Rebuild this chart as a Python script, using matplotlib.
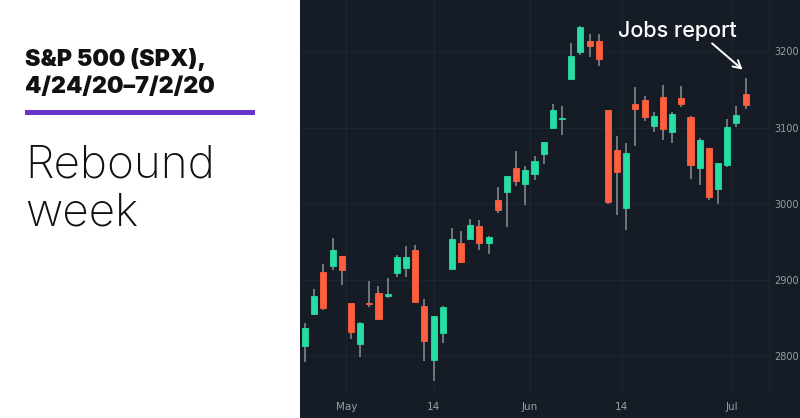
import matplotlib

matplotlib.use("Agg")
import matplotlib.pyplot as plt
from matplotlib.patches import Rectangle

# S&P 500 daily candles, 4/24/20 - 7/2/20
dates = [
    "4/24", "4/27", "4/28", "4/29", "4/30",
    "5/1", "5/4", "5/5", "5/6", "5/7", "5/8", "5/11", "5/12", "5/13", "5/14", "5/15",
    "5/18", "5/19", "5/20", "5/21", "5/22", "5/26", "5/27", "5/28", "5/29",
    "6/1", "6/2", "6/3", "6/4", "6/5", "6/8", "6/9", "6/10", "6/11", "6/12",
    "6/15", "6/16", "6/17", "6/18", "6/19", "6/22", "6/23", "6/24", "6/25", "6/26",
    "6/29", "6/30", "7/1", "7/2",
]
opens = [
    2812.6, 2854.7, 2910.0, 2918.5, 2930.9,
    2869.1, 2815.0, 2868.9, 2883.1, 2878.3, 2908.8, 2915.5, 2939.5, 2865.9, 2794.5, 2830.0,
    2913.9, 2948.6, 2953.6, 2970.0, 2948.1, 3004.1, 3015.7, 3046.6, 3025.2,
    3038.8, 3064.8, 3098.9, 3111.6, 3163.8, 3199.9, 3213.3, 3213.4, 3123.5, 3071.0,
    2993.8, 3131.0, 3136.1, 3101.6, 3140.3, 3094.4, 3138.7, 3114.4, 3046.6, 3073.2,
    3018.6, 3050.2, 3105.9, 3143.6,
]
highs = [
    2842.7, 2887.7, 2921.2, 2954.9, 2930.9,
    2869.1, 2844.2, 2898.2, 2891.1, 2901.9, 2932.2, 2944.3, 2945.8, 2874.1, 2852.8, 2865.0,
    2968.1, 2964.2, 2980.3, 2978.5, 2956.8, 3021.7, 3036.3, 3068.7, 3049.2,
    3062.2, 3081.1, 3130.9, 3128.9, 3211.7, 3233.1, 3222.7, 3223.3, 3123.5, 3088.4,
    3079.8, 3153.5, 3141.2, 3120.0, 3155.5, 3120.9, 3154.9, 3115.0, 3086.3, 3073.7,
    3053.9, 3111.5, 3128.4, 3165.8,
]
lows = [
    2791.8, 2852.9, 2860.7, 2912.2, 2892.5,
    2821.6, 2797.9, 2863.6, 2847.7, 2876.5, 2902.9, 2903.4, 2869.6, 2793.2, 2766.6, 2816.8,
    2913.9, 2922.4, 2953.6, 2938.6, 2933.6, 2988.2, 2969.8, 3023.4, 2998.6,
    3031.5, 3051.6, 3098.9, 3090.4, 3163.8, 3196.0, 3193.1, 3181.5, 2999.5, 2984.5,
    2965.7, 3076.1, 3108.0, 3093.5, 3083.1, 3079.4, 3127.1, 3032.1, 3024.0, 3004.6,
    2999.7, 3047.8, 3101.2, 3124.5,
]
closes = [
    2836.7, 2878.5, 2863.4, 2939.5, 2912.4,
    2830.7, 2842.7, 2868.4, 2848.4, 2881.2, 2929.8, 2930.2, 2870.1, 2820.0, 2852.5, 2863.7,
    2953.9, 2922.9, 2971.6, 2948.5, 2955.5, 2991.8, 3036.1, 3029.7, 3044.3,
    3055.7, 3080.8, 3122.9, 3112.4, 3193.9, 3232.4, 3207.2, 3190.1, 3002.1, 3041.3,
    3066.6, 3124.7, 3113.5, 3115.3, 3097.7, 3117.9, 3131.3, 3050.3, 3083.8, 3009.1,
    3053.2, 3100.3, 3115.9, 3130.0,
]

price_ticks = [2800, 2900, 3000, 3100, 3200]
time_ticks = [4.5, 14, 24.5, 34.5, 46.5]
time_labels = ["May", "14", "Jun", "14", "Jul"]

UP = "#26dda3"
DOWN = "#ff5f3d"
WICK = "#8a8f96"
BG = "#151c26"
GRID = "#1c2530"
LABEL = "#9a9fa6"

fig = plt.figure(figsize=(8.0, 4.18), dpi=100)
fig.patch.set_facecolor("white")

# dark backdrop behind the chart and its axis labels
bg_ax = fig.add_axes([0.375, 0, 0.625, 1], zorder=-1)
bg_ax.set_facecolor(BG)
bg_ax.set_xticks([])
bg_ax.set_yticks([])
for spine in bg_ax.spines.values():
    spine.set_visible(False)

# left panel text
fig.text(25 / 800, 1 - 66 / 418, "S&P 500 (SPX),", fontsize=16.8, fontweight="black",
         family="Inter", color="#111111", va="baseline")
fig.text(25 / 800, 1 - 93 / 418, "4/24/20–7/2/20", fontsize=16.8, fontweight="black",
         family="Inter", color="#111111", va="baseline")
fig.patches.append(
    Rectangle((25 / 800, 1 - 114.5 / 418), 230 / 800, 4.5 / 418, transform=fig.transFigure,
              facecolor="#6633cc", edgecolor="none")
)
fig.text(25 / 800, 1 - 177 / 418, "Rebound", fontsize=33, fontweight="light",
         family="Inter", color="#111111", va="baseline")
fig.text(25 / 800, 1 - 225 / 418, "week", fontsize=33, fontweight="light",
         family="Inter", color="#111111", va="baseline")

ax = fig.add_axes([300 / 800, 26 / 418, 469 / 800, 392 / 418])
ax.set_facecolor(BG)

width = 0.66
for i, (o, h, l, c) in enumerate(zip(opens, highs, lows, closes)):
    color = UP if c >= o else DOWN
    ax.vlines(i, l, h, color=WICK, linewidth=1.1, zorder=2)
    bottom = min(o, c)
    height = max(abs(c - o), 1.5)
    ax.add_patch(Rectangle((i - width / 2, bottom), width, height, facecolor=color,
                           edgecolor=color, linewidth=0.6, zorder=3))

ax.set_xlim(-0.55, 50.55)
ax.set_ylim(2752.3, 3267.7)

ax.set_yticks(price_ticks)
ax.set_xticks(time_ticks)
ax.set_xticklabels(time_labels)
ax.yaxis.tick_right()
ax.tick_params(axis="y", length=0, pad=3.5, labelsize=7, labelcolor=LABEL)
ax.tick_params(axis="x", length=0, pad=7, labelsize=7.5, labelcolor=LABEL)
for lab in ax.get_yticklabels():
    lab.set_horizontalalignment("left")
ax.grid(True, color=GRID, linewidth=0.8)
ax.set_axisbelow(True)
for name, spine in ax.spines.items():
    spine.set_visible(name == "right")
    spine.set_color(GRID)
    spine.set_linewidth(0.8)

# annotation for the last candle
tip = (len(closes) - 1 - 0.1, highs[-1] + 8)
ax.annotate("", xy=tip, xytext=(-25, 21.5), textcoords="offset points",
            arrowprops=dict(arrowstyle="->,head_length=0.55,head_width=0.3", color="white", lw=1.4))
ax.annotate("Jobs report", xy=tip, xytext=(-91.5, 24.5), textcoords="offset points",
            fontsize=15.5, fontweight="medium", family="Inter", color="white", va="baseline")

fig.savefig("out.png", dpi=100, facecolor=fig.get_facecolor())
